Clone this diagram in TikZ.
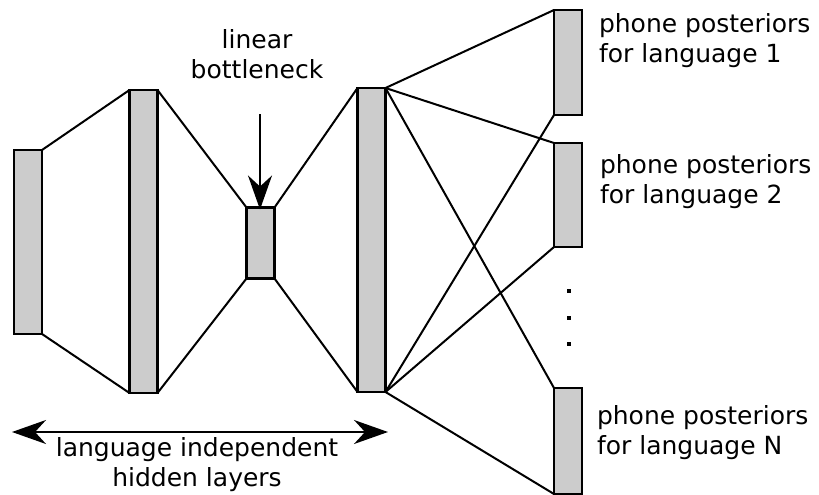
\documentclass[tikz,border=0pt]{standalone}
\usepackage{fontspec}
\setmainfont{DejaVu Sans}
\usetikzlibrary{arrows.meta}
\begin{document}
\begin{tikzpicture}[x=1pt,y=-1pt,
  layer/.style={draw=black, fill=black!20, line width=2.2pt, minimum width=28pt, inner sep=0pt, outer sep=0pt},
  wire/.style={line width=2pt},
  label/.style={font=\fontsize{25}{30}\selectfont, inner sep=0pt, outer sep=0pt},
  bigtip/.tip={Stealth[length=34pt, width=24pt, inset=11pt]},
  pointer/.style={line width=2pt}
]
\useasboundingbox (0,0) rectangle (819,495);

% shared hidden layers
\node[layer, minimum height=184pt] (h1) at (28,242) {};
\node[layer, minimum height=303pt] (h2) at (143.5,241.5) {};
\node[layer, minimum height=71pt]  (h3) at (260.5,243) {};
\node[layer, minimum height=304pt] (h4) at (371.5,240) {};

% language-specific output layers
\node[layer, minimum height=105pt] (o1) at (568,62.5) {};
\node[layer, minimum height=104pt] (o2) at (568,195) {};
\node[layer, minimum height=106pt] (o3) at (568,441) {};

% connections between consecutive layers
\foreach \a/\b in {h1/h2, h2/h3, h3/h4} {
  \draw[wire] (\a.north east) -- (\b.north west);
  \draw[wire] (\a.south east) -- (\b.south west);
}
\foreach \b in {o1, o2, o3} {
  \draw[wire] (h4.north east) -- (\b.north west);
  \draw[wire] (h4.south east) -- (\b.south west);
}

% vertical ellipsis between output layers
\foreach \yy in {291, 318, 344}
  \fill (567,\yy-2) rectangle (571,\yy+2);

% output labels (anchored at the baseline of their last line)
\node[label, anchor=base west, align=left] (t1) at (599,63) {phone posteriors\\for language 1};
\node[label, anchor=base west, align=left] (t2) at (600,203) {phone posteriors\\for language 2};
\node[label, anchor=base west, align=left] (t3) at (597,454) {phone posteriors\\for language N};

% bottleneck label and arrow
\node[label, anchor=base, align=center] (bn) at (257,78) {linear\\bottleneck};
\coordinate (bnfrom) at (260,114);
\draw[pointer, -bigtip] (bnfrom) -- ([yshift=-2pt]h3.north -| bnfrom);

% span of the shared layers
\coordinate (spanl) at (12,432);
\coordinate (spanr) at (388,432);
\draw[pointer, bigtip-bigtip] (spanl) -- (spanr);
\node[label, anchor=base, align=center] (span) at (197,486) {language independent\\hidden layers};
\end{tikzpicture}
\end{document}
